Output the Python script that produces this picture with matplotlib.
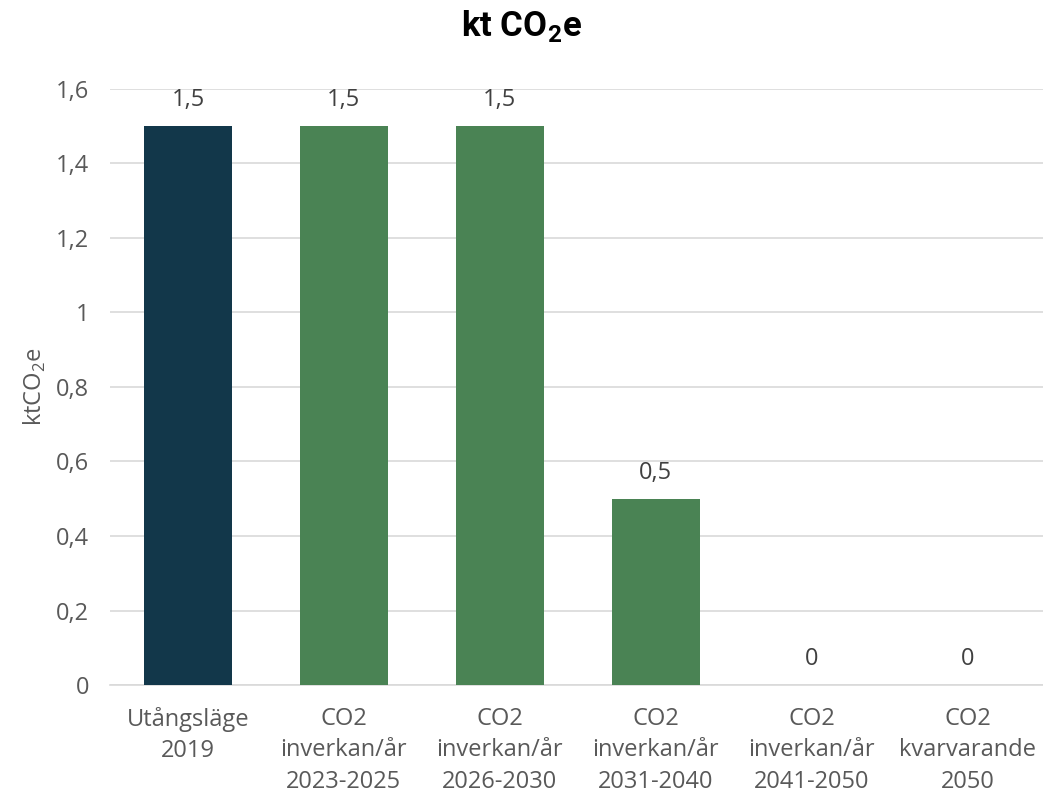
import matplotlib.pyplot as plt

categories = ["Utångsläge\n2019", "CO2\ninverkan/år\n2023-2025", "CO2\ninverkan/år\n2026-2030",
              "CO2\ninverkan/år\n2031-2040", "CO2\ninverkan/år\n2041-2050", "CO2\nkvarvarande\n2050"]
values = [1.5, 1.5, 1.5, 0.5, 0, 0]
labels = ["1,5", "1,5", "1,5", "0,5", "0", "0"]
colors = ["#12374A", "#4A8354", "#4A8354", "#4A8354", "#4A8354", "#4A8354"]
yticks = [0, 0.2, 0.4, 0.6, 0.8, 1, 1.2, 1.4, 1.6]
yticklabels = ["0", "0,2", "0,4", "0,6", "0,8", "1", "1,2", "1,4", "1,6"]

plt.rcParams['font.family'] = ['Open Sans', 'DejaVu Sans']
plt.rcParams['mathtext.fontset'] = 'custom'
plt.rcParams['mathtext.rm'] = 'Open Sans'
plt.rcParams['mathtext.bf'] = 'Roboto:bold'
txt = "#595959"

fig = plt.figure(figsize=(10.43, 7.96), dpi=100)
ax = fig.add_axes([0.1055, 0.1394, 0.897, 0.749])

x = range(len(categories))
ax.bar(x, values, width=0.565, color=colors, zorder=3)
for i, (v, l) in enumerate(zip(values, labels)):
    ax.annotate(l, (i, v), xytext=(0, 10), textcoords="offset points",
                ha="center", va="bottom", fontsize=17, color="#404040")

ax.set_xlim(-0.5, len(categories) - 0.5)
ax.set_ylim(0, 1.6)
ax.set_yticks(yticks)
ax.set_yticklabels(yticklabels)
ax.set_xticks(list(x))
ax.set_xticklabels(categories, linespacing=1.4)
ax.tick_params(axis="both", length=0, labelsize=17, colors=txt)
ax.tick_params(axis="x", pad=16)
ax.tick_params(axis="y", pad=15)
ax.grid(axis="y", color="#D9D9D9", linewidth=1.2, zorder=0)
for s in ["top", "right", "left"]:
    ax.spines[s].set_visible(False)
ax.spines["bottom"].set_color("#D9D9D9")
ax.spines["bottom"].set_linewidth(1.2)

ax.set_ylabel("ktCO$_2$e", fontsize=17, color=txt, labelpad=6)
fig.suptitle(r"kt CO$_\mathbf{2}$e", fontsize=25, fontweight="bold", fontfamily="Roboto", y=0.99)

fig.savefig("out.png", dpi=100)
